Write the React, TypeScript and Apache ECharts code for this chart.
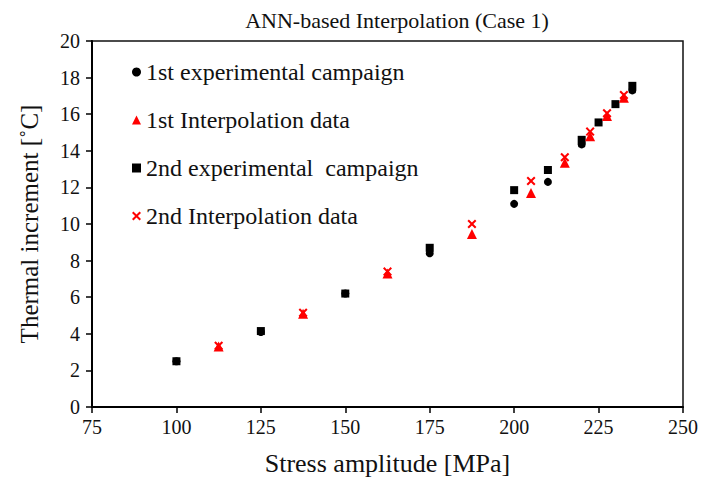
import React, { useEffect, useRef } from "react";
import * as echarts from "echarts";

const exp1X = [100, 125, 150, 175, 200, 210, 220, 235];
const exp1Y = [2.5, 4.1, 6.2, 8.4, 11.1, 12.3, 14.35, 17.3];
const int1X = [112.5, 137.5, 162.5, 187.5, 205, 215, 222.5, 227.5, 232.5];
const int1Y = [3.3, 5.1, 7.3, 9.45, 11.7, 13.35, 14.8, 15.9, 16.9];
const exp2X = [100, 125, 150, 175, 200, 210, 220, 225, 230, 235];
const exp2Y = [2.5, 4.15, 6.2, 8.7, 11.85, 12.95, 14.6, 15.55, 16.55, 17.55];
const int2X = [112.5, 137.5, 162.5, 187.5, 205, 215, 222.5, 227.5, 232.5];
const int2Y = [3.35, 5.15, 7.4, 10.0, 12.35, 13.65, 15.05, 16.05, 17.05];

const seriesNames = [
  "1st experimental campaign",
  "1st Interpolation data",
  "2nd experimental  campaign",
  "2nd Interpolation data",
];

const crossPath =
  "path://M0,1.6 L1.6,0 L5,3.4 L8.4,0 L10,1.6 L6.6,5 L10,8.4 L8.4,10 L5,6.6 L1.6,10 L0,8.4 L3.4,5 Z";

const zip = (xs: number[], ys: number[]) => xs.map((x, i) => [x, ys[i]]);

const FONT = "Liberation Serif";
const TEXT = "#111";

export default function App() {
  const ref = useRef<HTMLDivElement>(null);
  useEffect(() => {
    if (!ref.current) return;
    const chart = echarts.init(ref.current, null, { renderer: "svg" });
    chart.setOption({
      animation: false,
      backgroundColor: "#fff",
      textStyle: { fontFamily: FONT },
      title: {
        text: "ANN-based Interpolation (Case 1)",
        left: 392,
        textAlign: "center",
        top: 4,
        textStyle: { fontFamily: FONT, fontSize: 22, fontWeight: "normal", color: TEXT },
      },
      legend: {
        orient: "vertical",
        left: 127,
        top: 55,
        itemGap: 24,
        itemWidth: 9,
        itemHeight: 9,
        textStyle: { fontFamily: FONT, fontSize: 24, color: TEXT },
        data: seriesNames,
      },
      grid: {
        left: 92,
        right: 19,
        top: 41,
        bottom: 75,
        show: true,
        borderColor: "#111",
        borderWidth: 1.5,
      },
      xAxis: {
        type: "value",
        min: 75,
        max: 250,
        interval: 25,
        name: "Stress amplitude [MPa]",
        nameLocation: "middle",
        nameGap: 43,
        nameTextStyle: { fontFamily: FONT, fontSize: 26, color: TEXT },
        axisLine: { lineStyle: { color: "#000", width: 2 } },
        axisTick: { length: 6, lineStyle: { color: "#000", width: 1.5 } },
        axisLabel: { fontFamily: FONT, fontSize: 20, color: TEXT, margin: 10 },
        splitLine: { show: false },
      },
      yAxis: {
        type: "value",
        min: 0,
        max: 20,
        interval: 2,
        name: "Thermal increment [˚C]",
        nameLocation: "middle",
        nameGap: 50,
        nameTextStyle: { fontFamily: FONT, fontSize: 25, color: TEXT },
        axisLine: { lineStyle: { color: "#000", width: 2 } },
        axisTick: { length: 6, lineStyle: { color: "#000", width: 1.5 } },
        axisLabel: { fontFamily: FONT, fontSize: 20, color: TEXT, margin: 12 },
        splitLine: { show: false },
      },
      series: [
        {
          name: seriesNames[0],
          type: "scatter",
          symbol: "circle",
          symbolSize: 8,
          itemStyle: { color: "#000", opacity: 1 },
          data: zip(exp1X, exp1Y),
          z: 2,
        },
        {
          name: seriesNames[1],
          type: "scatter",
          symbol: "triangle",
          symbolSize: 10,
          itemStyle: { color: "#ff0000", opacity: 1 },
          data: zip(int1X, int1Y),
          z: 3,
        },
        {
          name: seriesNames[2],
          type: "scatter",
          symbol: "rect",
          symbolSize: 8,
          itemStyle: { color: "#000", opacity: 1 },
          data: zip(exp2X, exp2Y),
          z: 2,
        },
        {
          name: seriesNames[3],
          type: "scatter",
          symbol: crossPath,
          symbolSize: 9,
          itemStyle: { color: "#ff0000", opacity: 1 },
          data: zip(int2X, int2Y),
          z: 3,
        },
      ],
    });
    return () => chart.dispose();
  }, []);
  return (
    <div
      ref={ref}
      style={{ position: "fixed", left: 0, top: 0, width: 702, height: 482 }}
    />
  );
}
